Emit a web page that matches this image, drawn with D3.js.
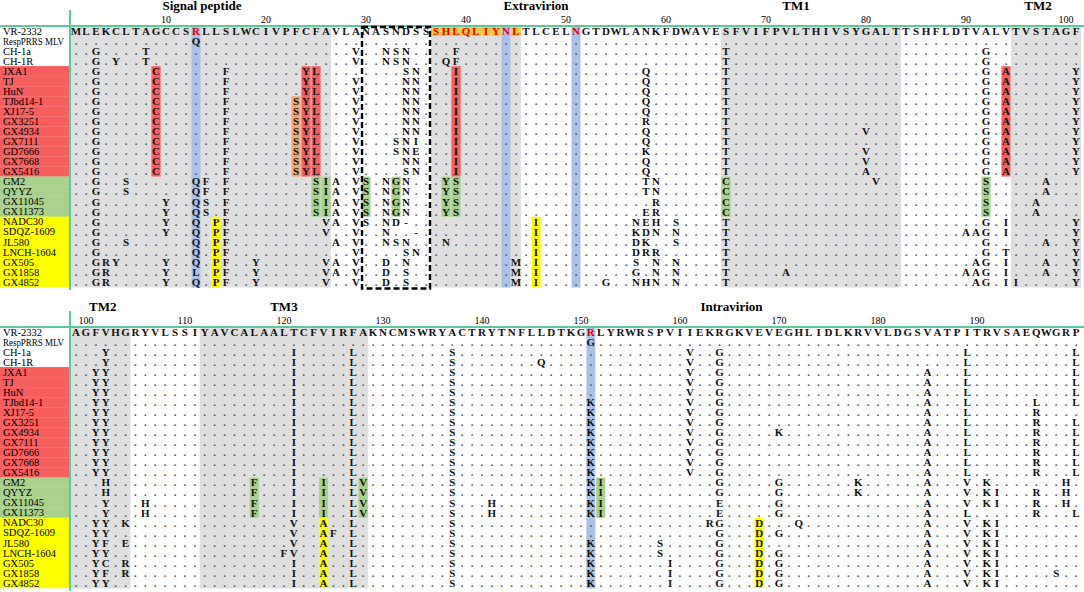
<!DOCTYPE html>
<html>
<head>
<meta charset="utf-8">
<script src="https://cdn.jsdelivr.net/npm/d3@7"></script>
<style>
  body { margin: 0; background: #fff; }
  svg { display: block; font-family: "Liberation Serif", "Times New Roman", serif; }
</style>
</head>
<body>
<script>
const width = 1084;
const height = 592;

// VR-2332 GP5, 200 aa
const refSeq = "MLEKCLTAGCCSRLLSLWCIVPFCFAVLANASNDSSSHLQLIYNLTLCELNGTDWLANKFDWAVESFVIFPVLTHIVSYGALTTSHFLDTVALVTVSTAGFVHGRYVLSSIYAVCALAALTCFVIRFAKNCMSWRYACTRYTNFLLDTKGRLYRWRSPVIIEKRGKVEVEGHLIDLKRVVLDGSVATPITRVSAEQWGRP";

const strains = ["VR-2332", "RespPRRS MLV", "CH-1a", "CH-1R", "JXA1", "TJ", "HuN", "TJbd14-1",
  "XJ17-5", "GX3251", "GX4934", "GX7111", "GD7666", "GX7668", "GX5416", "GM2", "QYYZ",
  "GX11045", "GX11373", "NADC30", "SDQZ-1609", "JL580", "LNCH-1604", "GX505", "GX1858", "GX4852"];

// lineage group of each strain (colours the name cell)
const lineage = ["ref", "ref", "ref", "ref",
  "hp", "hp", "hp", "hp", "hp", "hp", "hp", "hp", "hp", "hp", "hp",
  "l3", "l3", "l3", "l3",
  "nadc", "nadc", "nadc", "nadc", "nadc", "nadc", "nadc"];

// substitutions vs VR-2332, "position + residue"
const mutations = [
  "",
  "13Q 151G",
  "3G 8T 29V 32N 33S 34N 39F 66T 92G 102Y 121I 127L 137S 161V 164G 189L 200L",
  "3G 5Y 8T 29V 32N 33S 34N 38Q 39F 66T 92G 102Y 121I 127L 137S 146Q 161V 164G 189L 200L",
  "3G 9C 16F 24Y 25L 34S 35N 39I 58Q 66T 92G 94A 101Y 102Y 121I 127L 137S 161V 164G 185A 189L 200L",
  "3G 9C 16F 24Y 25L 29V 34N 35N 39I 58Q 66T 92G 94A 101Y 102Y 121I 127L 137S 161V 164G 185A 189L 200L",
  "3G 9C 16F 24Y 25L 29V 34N 35N 39I 58Q 66T 92G 94A 101Y 102Y 121I 127L 137S 161V 164G 185A 189L 200L",
  "3G 9C 16F 23S 24Y 25L 29V 34N 35N 39I 58Q 66T 92G 94A 101Y 102Y 121I 127L 137S 151K 161V 164G 185A 189L 196L 200L",
  "3G 9C 16F 23S 24Y 25L 29V 34N 35N 39I 58Q 66T 92G 94A 101Y 102Y 121I 127L 137S 151K 161V 164G 185A 189L 196R",
  "3G 9C 16F 23S 24Y 25L 29V 34N 35N 39I 58R 66T 92G 94A 101Y 102Y 121I 127L 137S 151K 161V 164G 185A 189L 196R 200L",
  "3G 9C 16F 23S 24Y 25L 29V 34N 35N 39I 58Q 66T 80V 92G 94A 101Y 102Y 121I 127L 137S 151K 161V 164G 170K 185A 189L 196R 200L",
  "3G 9C 16F 23S 24Y 25L 29V 33S 34N 35I 39I 58Q 66T 92G 94A 101Y 102Y 121I 127L 137S 151K 161V 164G 185A 189L 196R 200L",
  "3G 9C 16F 23S 24Y 25L 29V 33S 34N 35E 39I 58K 66T 80V 92G 94A 101Y 102Y 121I 127L 137S 151K 161V 164G 185A 189L 196R 200L",
  "3G 9C 16F 23S 24Y 25L 29V 34N 35N 39I 58Q 66T 80V 92G 94A 101Y 102Y 121I 127L 137S 151K 161V 164G 185A 189L 196R 200L",
  "3G 9C 16F 23S 24Y 25L 29V 34S 35N 39I 58Q 66T 80A 92G 94A 101Y 102Y 121I 127L 137S 151K 161V 164G 185A 189L 196R 200L",
  "3G 6S 13Q 14F 16F 25S 26I 27A 29V 30S 32N 33G 34N 38Y 39S 58T 59N 66C 81V 92S 98A 102H 117F 121I 124I 127L 128V 137S 151K 152I 164G 170G 178K 185A 189V 191K 199H",
  "3G 6S 13Q 14F 16F 25S 26I 27A 29V 30S 32N 33G 34N 38Y 39S 58T 59N 66C 92S 98A 102H 117F 121I 124I 127L 128V 137S 151K 152I 164G 170G 178K 185A 189V 191K 192I 196R 199H",
  "3G 10Y 13Q 14S 16F 25S 26I 27A 29V 30S 32N 33G 34N 38Y 39S 59R 66C 92S 97A 102Y 106H 117F 121I 124I 127L 128V 137S 141H 151K 152I 164E 170G 185A 189V 191K 192I 196R 199H",
  "3G 10Y 13Q 14S 16F 25S 26I 27A 29V 30S 32N 33G 34N 38Y 39S 58E 59R 66C 92S 97A 102Y 106H 117F 121I 124I 127L 128V 137S 141H 151K 152I 164E 170G 185A 189L 196R 200L",
  "3G 10Y 13Q 15P 16F 26V 27A 29V 30S 32N 33D 34- 47I 57N 58E 59H 61S 66T 92G 94I 101Y 102Y 104K 121V 124A 127L 137S 163R 164G 168D 172Q 185A 189V 191K 192I",
  "3G 10Y 13Q 15P 16F 26V 29V 32N 35- 47I 57K 58D 59N 61N 66T 90A 91A 92G 94I 101Y 102Y 121V 124A 125F 127L 137S 164G 168D 170G 185A 189V 191K 192I",
  "3G 6S 13Q 15P 16F 27A 29V 32N 33S 34N 38N 47I 57D 58K 61S 66T 92G 98A 101Y 102F 104E 121V 124A 127L 137S 151K 158S 164G 168D 185A 189V 191K 192I",
  "3G 13Q 15P 16F 29V 34S 35N 47I 57D 58R 59R 66T 92G 94T 101Y 102Y 120F 121V 124A 127L 137S 151K 158S 164G 168D 170G 185A 189V 191K 192I",
  "3G 4R 5Y 10Y 13Q 15P 16F 19Y 26V 27A 29V 32D 34N 45M 47I 57S 59N 61N 66T 91A 92G 94I 98A 101Y 102C 104R 121I 124A 127L 137S 151K 159I 164G 168D 170G 185A 189V 191K 192I",
  "3G 4R 10Y 13L 15P 16F 19Y 26V 27A 29V 32D 34S 45M 47I 57G 59N 61N 66T 72A 90A 91A 92G 94I 98A 101Y 102F 104R 121I 124A 127L 137S 151K 159I 164G 168D 170G 185A 189V 191K 192I 198S",
  "3G 4R 10Y 13Q 15P 16F 19Y 26V 29V 32D 34S 45M 47I 54G 57N 58H 59N 61N 66T 91A 92G 94I 95I 101Y 102Y 121I 124A 127L 137S 151K 159I 164G 168D 170G 185A 189V 191K 192I"
];

// shaded domains (residue ranges)
const greyRanges = [[1, 26], [37, 45], [66, 83], [95, 101], [99, 104], [112, 128]];
// key residues (blue columns)
const blueCols = [13, 44, 51, 151];
// epitope residues on the VR-2332 line
const epitopeCols = [37, 38, 39, 40, 41, 42, 43, 45];
const redTextCols = [13, 37, 38, 39, 40, 41, 42, 43, 44, 45, 51, 151];
// lineage-specific highlighted columns
const hpCols = [9, 24, 25, 39, 94];
const hpNewCols = [23];
const l3Cols = [25, 26, 30, 33, 38, 39, 66, 92, 117, 124, 128, 152];
const nadcCols = [15, 47, 124, 168];
// glycosylation site box
const boxRange = [30, 36];

const topTicks = [10, 20, 30, 40, 50, 60, 70, 80, 90, 100];
const bottomTicks = [100, 110, 120, 130, 140, 150, 160, 170, 180, 190];
const topRegions = [["Signal peptide", 13.6], ["Extravirion", 47], ["TM1", 73], ["TM2", 97.2]];
const bottomRegions = [["TM2", 101.7], ["TM3", 120], ["Intravirion", 165.2]];

const colors = {
  line: "#5cc99c", grey: "#dfdfdf", blue: "#abc1e7", gold: "#fcc84a",
  hp: "#f75f5f", hpNew: "#f3a874", l3: "#a9d18e", nadc: "#ffff00", ref: "#ffffff"
};

// parse mutation strings into maps
const mutMaps = mutations.map(s => {
  const m = new Map();
  s.split(" ").filter(t => t).forEach(t => m.set(+t.slice(0, -1), t.slice(-1)));
  return m;
});

const svg = d3.select("body").append("svg")
  .attr("width", width)
  .attr("height", height);

svg.append("rect").attr("width", width).attr("height", height).attr("fill", "#fff");

function drawBlock(lo, hi, x, y, lineY, vTop, vBottom, ticks, regions, hasBox) {
  const g = svg.append("g");
  const half = 5;
  const inBlock = p => p >= lo && p <= hi;
  const yTop = lineY + 0.5;
  const yBottom = y(25) + 5.5;

  // grey shading
  greyRanges.filter(r => r[1] >= lo && r[0] <= hi).forEach(r => {
    const a = Math.max(r[0], lo), b = Math.min(r[1], hi);
    const x0 = a === lo ? 71 : x(a) - half;
    g.append("rect")
      .attr("x", x0).attr("y", yTop)
      .attr("width", x(b) + half - x0).attr("height", yBottom - yTop)
      .attr("fill", colors.grey);
  });

  // blue columns
  blueCols.filter(inBlock).forEach(p => {
    g.append("rect")
      .attr("x", x(p) - 4.5).attr("y", yTop)
      .attr("width", 9).attr("height", yBottom - yTop)
      .attr("fill", colors.blue);
  });

  // epitope highlight on reference row
  epitopeCols.filter(inBlock).forEach(p => {
    g.append("rect")
      .attr("x", x(p) - half).attr("y", yTop)
      .attr("width", 10).attr("height", y(0) + 5 - yTop)
      .attr("fill", colors.gold);
  });

  // lineage highlights
  const rowsOf = grp => d3.range(strains.length).filter(i => lineage[i] === grp);
  const spans = [
    [hpCols, rowsOf("hp"), colors.hp],
    [hpNewCols, [7, 8, 9, 10, 11, 12, 13, 14], colors.hpNew],
    [l3Cols, rowsOf("l3"), colors.l3],
    [nadcCols, rowsOf("nadc"), colors.nadc]
  ];
  spans.forEach(([cols, rows, c]) => {
    cols.filter(inBlock).forEach(p => {
      const r0 = d3.min(rows), r1 = d3.max(rows);
      g.append("rect")
        .attr("x", x(p) - 4.6).attr("y", y(r0) - 5)
        .attr("width", 9.2).attr("height", y(r1) - y(r0) + 10)
        .attr("fill", c);
    });
  });

  // name cells
  strains.forEach((s, i) => {
    if (lineage[i] !== "ref") {
      g.append("rect")
        .attr("x", 0).attr("y", y(i) - 5.1)
        .attr("width", 70).attr("height", 10.3)
        .attr("fill", colors[lineage[i]]);
    }
    const t = g.append("text")
      .attr("x", 3).attr("y", y(i)).attr("dy", "0.35em")
      .attr("font-size", 10.5)
      .text(s);
    if (s.length > 10) t.attr("textLength", 61).attr("lengthAdjust", "spacingAndGlyphs");
  });

  // residues
  const positions = d3.range(lo, hi + 1);
  strains.forEach((s, i) => {
    const row = g.append("g");
    row.selectAll("text")
      .data(positions)
      .join("text")
      .attr("x", p => x(p))
      .attr("y", y(i))
      .attr("dy", "0.35em")
      .attr("text-anchor", "middle")
      .attr("font-size", 11)
      .attr("font-weight", "bold")
      .attr("fill", p => {
        if (i === 0) return redTextCols.includes(p) ? "#e00000" : "#111";
        return mutMaps[i].has(p) ? "#111" : "#555";
      })
      .text(p => i === 0 ? refSeq[p - 1] : (mutMaps[i].get(p) || "."));
  });

  // frame lines
  g.append("line")
    .attr("x1", 0).attr("x2", width).attr("y1", lineY).attr("y2", lineY)
    .attr("stroke", colors.line).attr("stroke-width", 2);
  g.append("line")
    .attr("x1", 70).attr("x2", 70).attr("y1", vTop).attr("y2", vBottom)
    .attr("stroke", colors.line).attr("stroke-width", 2);

  // box around the glycosylation site region
  if (hasBox) {
    g.append("rect")
      .attr("x", x(boxRange[0]) - 4).attr("y", lineY + 1)
      .attr("width", x(boxRange[1]) - x(boxRange[0]) + 8)
      .attr("height", yBottom - lineY)
      .attr("fill", "none")
      .attr("stroke", "#000")
      .attr("stroke-width", 2.4)
      .attr("stroke-dasharray", "6,3");
  }

  // position numbers
  g.selectAll(".tick")
    .data(ticks)
    .join("text")
    .attr("x", p => x(p))
    .attr("y", lineY - 3)
    .attr("text-anchor", "middle")
    .attr("font-size", 10)
    .text(p => p);

  // domain names
  g.selectAll(".region")
    .data(regions)
    .join("text")
    .attr("x", d => x(d[1]))
    .attr("y", lineY - 16)
    .attr("text-anchor", "middle")
    .attr("font-size", 13)
    .attr("font-weight", "bold")
    .text(d => d[0]);
}

const xTop = d3.scaleLinear().domain([1, 101]).range([76, 1076]);
const yTopRows = d3.scaleLinear().domain([0, 25]).range([31, 282]);
drawBlock(1, 101, xTop, yTopRows, 26, 10, 290, topTicks, topRegions, true);

const xBottom = d3.scaleLinear().domain([99, 200]).range([76, 1076]);
const yBottomRows = d3.scaleLinear().domain([0, 25]).range([332, 583]);
drawBlock(99, 200, xBottom, yBottomRows, 327, 311, 591, bottomTicks, bottomRegions, false);
</script>
</body>
</html>
